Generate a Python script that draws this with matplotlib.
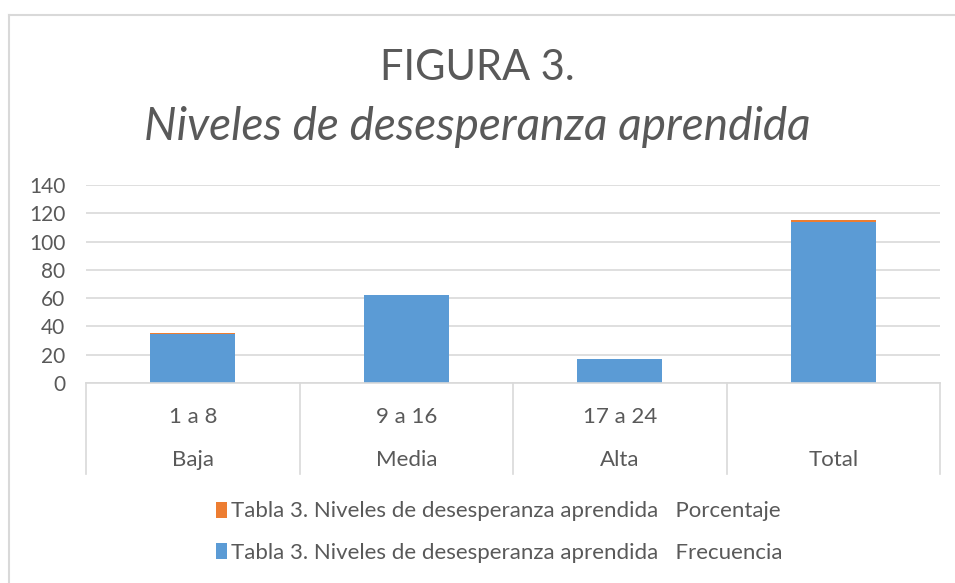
import matplotlib
matplotlib.use("Agg")
import matplotlib.pyplot as plt
from matplotlib.lines import Line2D

# Data
niveles = ["Baja", "Media", "Alta", "Total"]
rangos = ["1 a 8", "9 a 16", "17 a 24", ""]
frecuencia = [35, 62, 17, 114]
porcentaje = [0.31, 0.54, 0.15, 1.0]
y_ticks = [0, 20, 40, 60, 80, 100, 120, 140]

serie_frec = "Tabla 3. Niveles de desesperanza aprendida   Frecuencia"
serie_porc = "Tabla 3. Niveles de desesperanza aprendida   Porcentaje"

plt.rcParams["font.family"] = ["Lato", "DejaVu Sans"]
gris = "#595959"
linea = "#d9d9d9"

W, H = 955, 583
fig = plt.figure(figsize=(W / 100, H / 100), dpi=100)
ax = fig.add_axes([86 / W, 1 - 383 / H, (940 - 86) / W, (383 - 185) / H])

x = list(range(len(niveles)))
b1 = ax.bar(x, frecuencia, width=0.4, color="#5b9bd5", label=serie_frec, zorder=3)
b2 = ax.bar(x, porcentaje, width=0.4, bottom=frecuencia, color="#ed7d31", label=serie_porc, zorder=3)

ax.set_xlim(-0.5, 3.5)
ax.set_ylim(0, 140)
ax.set_yticks(y_ticks)
ax.tick_params(axis="y", length=0, pad=15, labelsize=15, labelcolor=gris)
ax.set_xticks([])
ax.grid(axis="y", color=linea, linewidth=1.2, zorder=0)
for s in ax.spines.values():
    s.set_visible(False)

# category labels (two levels) with separator lines
for i in x:
    cx = (86 + (i + 0.5) * (940 - 86) / 4) / W
    fig.text(cx, 1 - 417 / H, rangos[i], ha="center", va="center", fontsize=16, color=gris)
    fig.text(cx, 1 - 460 / H, niveles[i], ha="center", va="center", fontsize=16, color=gris)
for i in range(5):
    xx = (86 + i * (940 - 86) / 4) / W
    fig.add_artist(Line2D([xx, xx], [1 - 383 / H, 1 - 474 / H], color=linea, linewidth=1.2))
fig.add_artist(Line2D([86 / W, 940 / W], [1 - 383 / H, 1 - 383 / H], color=linea, linewidth=1.2))

# title
fig.text(0.5, 1 - 68 / H, "FIGURA 3.", ha="center", va="center", fontsize=30, color=gris)
fig.text(0.5, 1 - 127 / H, "Niveles de desesperanza aprendida", ha="center", va="center",
         fontsize=33, style="italic", color=gris)

# legend
leg = fig.legend([b2, b1], [serie_porc, serie_frec], loc="center",
                 bbox_to_anchor=(0.523, 1 - 532 / H), frameon=False, fontsize=16,
                 handlelength=0.5, handleheight=0.75, handletextpad=0.2, labelspacing=0.95)
for t in leg.get_texts():
    t.set_color(gris)

# outer chart frame
fig.add_artist(Line2D([9 / W, 9 / W], [0, 1 - 15 / H], color=linea, linewidth=1.5))
fig.add_artist(Line2D([9 / W, 1], [1 - 15 / H, 1 - 15 / H], color=linea, linewidth=1.5))

fig.savefig("out.png", dpi=100)
